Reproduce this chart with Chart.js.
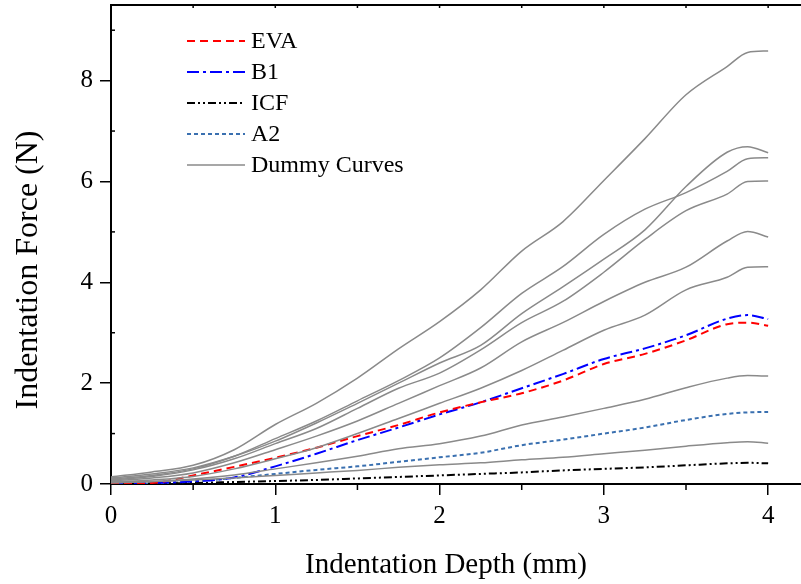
<!DOCTYPE html>
<html>
<head>
<meta charset="utf-8">
<script src="https://cdn.jsdelivr.net/npm/chart.js@4.4.1/dist/chart.umd.min.js"></script>
<style>
  body { margin: 0; background: #fff; }
</style>
</head>
<body>
<canvas id="myChart" width="801" height="584"></canvas>
<script>
// indentation depth (mm)
var depth = [0, 0.25, 0.5, 0.75, 1, 1.25, 1.5, 1.75, 2, 2.25, 2.5, 2.75, 3, 3.25, 3.5, 3.75, 3.875, 4];

var eva = [0, 0.02, 0.17, 0.34, 0.52, 0.72, 0.95, 1.17, 1.42, 1.62, 1.8, 2.05, 2.38, 2.58, 2.85, 3.17, 3.2, 3.14];
var b1  = [0, 0.02, 0.05, 0.13, 0.35, 0.6, 0.87, 1.12, 1.38, 1.62, 1.9, 2.18, 2.48, 2.69, 2.95, 3.28, 3.35, 3.27];
var icf = [0, 0.01, 0.02, 0.04, 0.06, 0.08, 0.11, 0.14, 0.17, 0.2, 0.23, 0.27, 0.3, 0.33, 0.37, 0.41, 0.42, 0.41];
var a2  = [0, 0.01, 0.05, 0.12, 0.2, 0.28, 0.35, 0.44, 0.53, 0.62, 0.77, 0.88, 1.0, 1.12, 1.27, 1.39, 1.42, 1.43];

var dummy = [
  [0.14, 0.24, 0.37, 0.68, 1.18, 1.6, 2.1, 2.68, 3.22, 3.85, 4.62, 5.2, 6.02, 6.85, 7.72, 8.28, 8.56, 8.59],
  [0.12, 0.2, 0.32, 0.55, 0.85, 1.21, 1.6, 2.0, 2.4, 2.75, 3.38, 3.91, 4.46, 5.04, 5.9, 6.58, 6.69, 6.57],
  [0.1, 0.17, 0.3, 0.55, 0.9, 1.25, 1.65, 2.05, 2.5, 3.1, 3.78, 4.31, 4.95, 5.45, 5.78, 6.2, 6.45, 6.47],
  [0.08, 0.15, 0.28, 0.5, 0.8, 1.1, 1.5, 1.9, 2.2, 2.66, 3.2, 3.62, 4.2, 4.85, 5.42, 5.75, 6.0, 6.01],
  [0.06, 0.12, 0.22, 0.42, 0.68, 0.95, 1.25, 1.6, 1.95, 2.3, 2.82, 3.2, 3.62, 4.0, 4.3, 4.82, 5.01, 4.9],
  [0.04, 0.08, 0.15, 0.3, 0.5, 0.72, 1.0, 1.3, 1.6, 1.9, 2.25, 2.65, 3.05, 3.35, 3.85, 4.1, 4.3, 4.31],
  [0.02, 0.05, 0.1, 0.18, 0.3, 0.42, 0.55, 0.7, 0.8, 0.95, 1.17, 1.33, 1.5, 1.68, 1.91, 2.1, 2.15, 2.14],
  [0.04, 0.05, 0.08, 0.12, 0.17, 0.22, 0.27, 0.33, 0.38, 0.42, 0.48, 0.53, 0.6, 0.67, 0.75, 0.82, 0.84, 0.81]
];

var xTicks = [0, 1, 2, 3, 4];
var yTicks = [0, 2, 4, 6, 8];

function pts(vals) {
  return vals.map(function (v, i) { return {x: depth[i], y: v}; });
}

var serif = '"Liberation Serif", "Times New Roman", serif';

var datasets = [];
dummy.forEach(function (d) {
  datasets.push({
    label: 'Dummy Curves',
    data: pts(d),
    borderColor: '#8a8a8a',
    borderWidth: 1.5,
    pointRadius: 0,
    cubicInterpolationMode: 'monotone'
  });
});
datasets.push({label: 'EVA', data: pts(eva), borderColor: '#ff0000', borderWidth: 2, borderDash: [8, 5], pointRadius: 0, cubicInterpolationMode: 'monotone'});
datasets.push({label: 'B1', data: pts(b1), borderColor: '#0000ff', borderWidth: 2, borderDash: [12, 4, 3, 4], pointRadius: 0, cubicInterpolationMode: 'monotone'});
datasets.push({label: 'ICF', data: pts(icf), borderColor: '#000000', borderWidth: 2, borderDash: [8, 3, 2, 3, 2, 3], pointRadius: 0, cubicInterpolationMode: 'monotone'});
datasets.push({label: 'A2', data: pts(a2), borderColor: '#3a70b0', borderWidth: 2, borderDash: [4, 3], pointRadius: 0, cubicInterpolationMode: 'monotone'});

var extras = {
  id: 'extras',
  afterDraw: function (chart) {
    var c = chart.ctx, area = chart.chartArea;
    var xs = chart.scales.x, ys = chart.scales.y;
    c.save();
    c.strokeStyle = '#000';
    c.lineWidth = 1.5;
    // minor ticks
    [0.5, 1.5, 2.5, 3.5].forEach(function (v) {
      var px = xs.getPixelForValue(v);
      c.beginPath(); c.moveTo(px, area.bottom); c.lineTo(px, area.bottom + 6); c.stroke();
    });
    [1, 3, 5, 7, 9].forEach(function (v) {
      var py = ys.getPixelForValue(v);
      c.beginPath(); c.moveTo(area.left, py); c.lineTo(area.left + 4, py); c.stroke();
    });
    // top frame
    c.lineWidth = 2;
    c.beginPath(); c.moveTo(area.left, area.top); c.lineTo(area.right, area.top); c.stroke();
    c.lineWidth = 1.5;
    for (var v = 0.5; v <= 4; v += 0.5) {
      var px = xs.getPixelForValue(v);
      c.beginPath(); c.moveTo(px, area.top); c.lineTo(px, area.top + 3); c.stroke();
    }
    // legend
    var items = [datasets[8], datasets[9], datasets[10], datasets[11], datasets[0]];
    c.font = '24px ' + serif;
    c.textBaseline = 'middle';
    c.fillStyle = '#000';
    items.forEach(function (ds, i) {
      var y = 41 + i * 31;
      c.strokeStyle = ds.borderColor;
      c.lineWidth = ds.borderWidth;
      c.setLineDash(ds.borderDash || []);
      c.beginPath(); c.moveTo(187, y); c.lineTo(245, y); c.stroke();
      c.setLineDash([]);
      c.fillText(ds.label, 251, y + 1);
    });
    // axis titles
    c.font = '29px ' + serif;
    c.textAlign = 'center';
    c.textBaseline = 'alphabetic';
    c.fillText('Indentation Depth (mm)', 446, 573);
    c.font = '32px ' + serif;
    c.translate(37, 270);
    c.rotate(-Math.PI / 2);
    c.fillText('Indentation Force (N)', 0, 0);
    c.restore();
  }
};

var ctx = document.getElementById('myChart').getContext('2d');
var myChart = new Chart(ctx, {
  type: 'line',
  data: { datasets: datasets },
  options: {
    responsive: false,
    animation: false,
    layout: { padding: { top: 5, right: 0, left: 0, bottom: 0 } },
    plugins: {
      legend: { display: false },
      tooltip: { enabled: false }
    },
    scales: {
      x: {
        type: 'linear',
        min: 0,
        max: 4.2,
        afterFit: function (s) { s.height = 100; s.paddingLeft = 0; s.paddingRight = 0; },
        afterBuildTicks: function (s) { s.ticks = xTicks.map(function (v) { return {value: v}; }); },
        ticks: { font: { family: serif, size: 25 }, color: '#000', padding: 6, maxRotation: 0 },
        grid: { drawOnChartArea: false, tickLength: 11, color: '#000', lineWidth: 1.5 },
        border: { color: '#000', width: 2 }
      },
      y: {
        min: 0,
        max: 9.5,
        afterFit: function (s) { s.width = 111; s.paddingTop = 0; s.paddingBottom = 0; },
        afterBuildTicks: function (s) { s.ticks = yTicks.map(function (v) { return {value: v}; }); },
        ticks: { font: { family: serif, size: 25 }, color: '#000', padding: 7 },
        grid: { drawOnChartArea: false, tickLength: 11, color: '#000', lineWidth: 1.5 },
        border: { color: '#000', width: 2 }
      }
    }
  },
  plugins: [extras]
});
</script>
</body>
</html>
